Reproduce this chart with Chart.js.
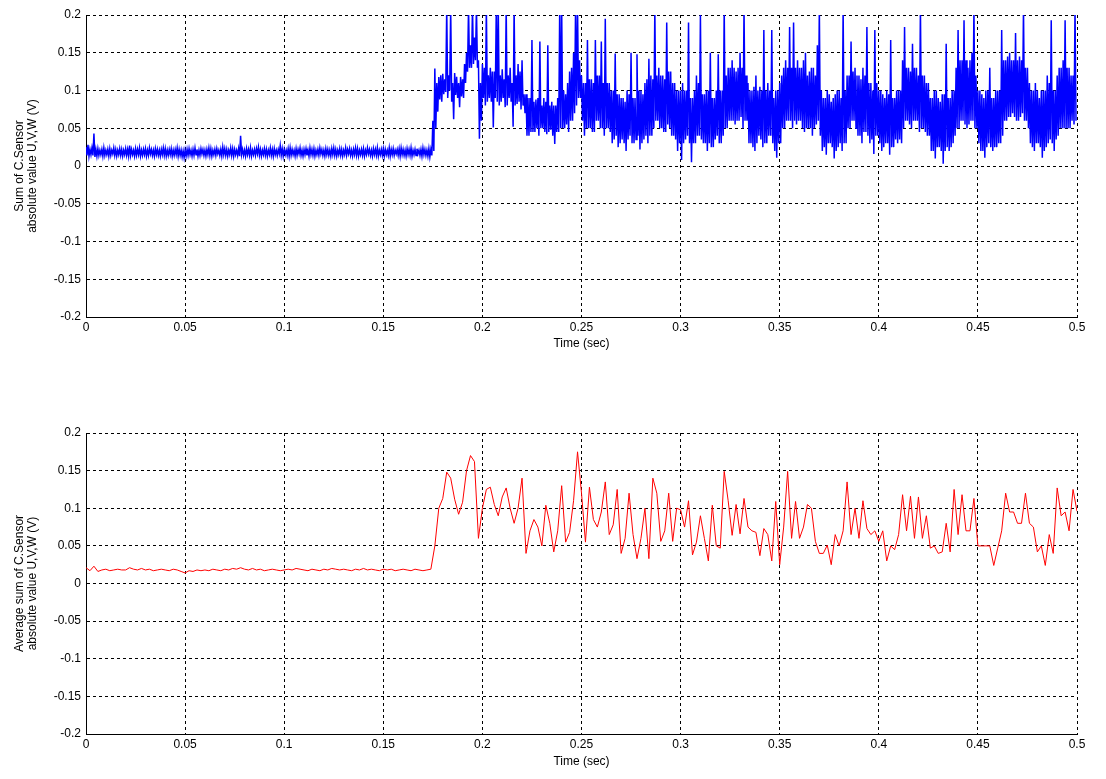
<!DOCTYPE html>
<html>
<head>
<meta charset="utf-8">
<script src="https://cdn.jsdelivr.net/npm/chart.js@4/dist/chart.umd.min.js"></script>
<style>
  body { margin: 0; background: #fff; }
  .plot { position: absolute; left: 0; width: 1106px; height: 361px; }
</style>
</head>
<body>
<div class="plot" style="top:0"><canvas id="sum-chart"></canvas></div>
<div class="plot" style="top:418px"><canvas id="avg-chart"></canvas></div>
<script>
// Tick labels
const xTicks = [0, 0.05, 0.1, 0.15, 0.2, 0.25, 0.3, 0.35, 0.4, 0.45, 0.5];
const yTicks = [-0.2, -0.15, -0.1, -0.05, 0, 0.05, 0.1, 0.15, 0.2];

// Sum of sensor values: peak and trough inside each 1 ms bin
const binWidth = 0.001;
const sumPeak = [
  // 0 .. 0.174 s : idle level
  .025,.028,.022,.024,.043,.022,.023,.021,.022,.024,.021,.022,.023,.021,.024,.022,.021,.023,.022,.021,.023,.022,.027,.022,.021,
  .023,.022,.024,.021,.022,.023,.021,.024,.022,.021,.023,.022,.021,.022,.024,.023,.021,.022,.023,.021,.022,.024,.022,.021,.020,
  .021,.022,.023,.021,.022,.024,.022,.021,.023,.022,.021,.022,.024,.023,.021,.022,.023,.021,.022,.025,.023,.022,.021,.024,.023,
  .022,.021,.023,.040,.022,.021,.023,.022,.024,.021,.022,.023,.025,.022,.021,.023,.022,.021,.024,.022,.023,.021,.022,.027,.023,
  .022,.021,.023,.024,.022,.021,.023,.022,.024,.021,.022,.023,.021,.024,.022,.023,.021,.022,.024,.022,.021,.023,.022,.021,.023,
  .024,.022,.021,.023,.022,.021,.024,.022,.023,.021,.022,.024,.023,.021,.022,.023,.021,.024,.022,.021,.023,.022,.024,.021,.022,
  .023,.022,.021,.024,.022,.023,.021,.022,.023,.024,.022,.021,.023,.022,.024,.021,.022,.023,.021,.022,.024,.022,.021,.023,.022,
  // 0.175 s onwards : motor running
  .06,.129,.11,.118,.12,.122,.115,.21,.12,.21,
  .11,.123,.118,.11,.118,.115,.135,.15,.21,.16,
  .21,.17,.21,.14,.11,.135,.13,.21,.12,.13,
  .125,.125,.21,.21,.12,.128,.115,.21,.12,.13,
  .11,.21,.12,.135,.125,.14,.095,.095,.09,.09,
  .167,.085,.088,.09,.165,.08,.09,.085,.16,.08,
  .085,.08,.08,.09,.21,.21,.1,.095,.11,.125,
  .13,.15,.21,.21,.14,.12,.11,.11,.167,.115,
  .115,.11,.167,.12,.12,.165,.11,.195,.11,.11,
  .1,.1,.149,.095,.095,.09,.09,.085,.1,.095,
  .15,.09,.09,.148,.1,.1,.095,.11,.115,.142,
  .12,.115,.21,.12,.13,.12,.12,.115,.19,.125,
  .125,.11,.11,.1,.1,.1,.11,.1,.1,.19,
  .09,.09,.1,.12,.11,.2,.095,.095,.1,.1,
  .15,.09,.09,.1,.148,.1,.1,.21,.12,.13,
  .13,.14,.13,.125,.13,.15,.13,.21,.12,.11,
  .1,.1,.105,.12,.1,.105,.1,.18,.1,.11,
  .1,.18,.09,.1,.1,.11,.12,.13,.14,.13,
  .184,.13,.19,.13,.14,.13,.13,.14,.15,.12,
  .125,.13,.13,.12,.16,.21,.1,.09,.09,.1,
  .095,.085,.09,.095,.1,.1,.09,.21,.1,.12,
  .12,.165,.125,.13,.12,.12,.115,.13,.12,.184,
  .11,.11,.1,.18,.11,.1,.1,.095,.09,.1,
  .095,.167,.09,.09,.1,.1,.1,.14,.184,.13,
  .13,.125,.162,.13,.13,.12,.21,.12,.12,.11,
  .11,.09,.09,.1,.1,.09,.085,.095,.095,.162,
  .09,.09,.1,.1,.13,.18,.14,.14,.193,.14,
  .13,.14,.15,.21,.12,.1,.1,.095,.09,.1,
  .1,.13,.09,.09,.1,.1,.1,.18,.14,.14,
  .145,.15,.14,.14,.176,.14,.145,.14,.21,.13,
  .13,.11,.1,.1,.11,.1,.09,.1,.1,.1,
  .12,.11,.193,.1,.1,.12,.13,.13,.14,.193,
  .13,.13,.12,.12,.21
];
const sumTrough = [
  // 0 .. 0.174 s
  .014,.013,.015,.014,.012,.013,.014,.015,.013,.014,.015,.013,.014,.016,.014,.013,.015,.014,.013,.015,.014,.013,.014,.015,.013,
  .014,.015,.013,.014,.015,.013,.014,.016,.014,.013,.015,.014,.013,.015,.014,.013,.014,.015,.013,.014,.015,.013,.014,.012,.011,
  .013,.014,.015,.013,.014,.015,.013,.014,.016,.014,.013,.015,.014,.013,.015,.014,.016,.014,.013,.015,.014,.013,.015,.014,.013,
  .015,.014,.013,.015,.014,.013,.015,.014,.013,.015,.014,.016,.014,.013,.015,.014,.013,.015,.014,.013,.015,.014,.016,.014,.013,
  .015,.014,.013,.014,.015,.013,.014,.016,.014,.013,.015,.014,.013,.015,.014,.013,.015,.014,.016,.014,.013,.015,.014,.013,.015,
  .014,.013,.015,.014,.013,.015,.014,.016,.014,.013,.015,.014,.013,.015,.014,.013,.015,.016,.014,.013,.015,.014,.013,.015,.014,
  .013,.015,.014,.013,.015,.014,.016,.014,.013,.015,.014,.013,.015,.014,.013,.015,.014,.016,.014,.013,.015,.014,.013,.012,.014,
  // 0.175 s onwards
  .02,.05,.072,.088,.085,.095,.098,.09,.1,.085,
  .062,.094,.09,.078,.092,.09,.11,.125,.13,.13,
  .135,.14,.13,.036,.06,.09,.08,.085,.09,.085,
  .051,.09,.085,.08,.085,.09,.078,.08,.09,.085,
  .052,.08,.082,.085,.075,.08,.07,.04,.04,.045,
  .045,.045,.05,.04,.05,.05,.045,.042,.045,.048,
  .04,.029,.045,.045,.05,.05,.05,.055,.045,.06,
  .06,.07,.08,.09,.09,.06,.04,.05,.05,.05,
  .045,.045,.06,.06,.05,.05,.04,.05,.05,.045,
  .03,.035,.04,.025,.03,.035,.03,.02,.035,.04,
  .03,.03,.035,.04,.022,.03,.035,.04,.03,.04,
  .04,.05,.06,.06,.05,.05,.045,.045,.055,.05,
  .04,.04,.035,.02,.03,.008,.03,.035,.04,.03,
  .005,.03,.03,.04,.04,.035,.03,.03,.02,.03,
  .025,.025,.035,.04,.03,.03,.04,.05,.05,.06,
  .06,.06,.055,.06,.06,.065,.05,.06,.06,.03,
  .03,.025,.02,.03,.04,.035,.025,.03,.03,.04,
  .04,.03,.02,.011,.03,.03,.05,.05,.06,.06,
  .06,.05,.06,.055,.06,.06,.05,.045,.05,.05,
  .05,.04,.05,.055,.06,.04,.02,.025,.015,.03,
  .03,.025,.01,.02,.025,.03,.02,.03,.03,.05,
  .05,.06,.06,.05,.04,.04,.03,.045,.045,.04,
  .03,.035,.016,.04,.04,.03,.02,.025,.03,.03,
  .015,.025,.025,.035,.03,.035,.03,.05,.06,.06,
  .055,.05,.06,.06,.06,.045,.05,.05,.045,.04,
  .04,.02,.02,.01,.025,.025,.02,.003,.02,.025,
  .02,.025,.03,.04,.05,.05,.06,.06,.055,.05,
  .055,.06,.06,.05,.05,.03,.02,.02,.011,.025,
  .03,.025,.02,.025,.025,.03,.03,.04,.06,.06,
  .065,.065,.07,.065,.06,.06,.065,.07,.06,.06,
  .05,.03,.025,.02,.03,.03,.025,.011,.02,.025,
  .03,.035,.03,.02,.035,.04,.05,.05,.05,.05,
  .05,.05,.06,.055,.06
];

// Averaged sum, sampled every 2 ms
const avgStep = 0.002;
const avgValues = [
  // 0 .. 0.174 s
  0.021,0.017,0.023,0.016,0.018,0.019,0.017,0.018,0.019,0.018,0.018,0.021,0.019,0.018,0.020,0.018,0.019,0.017,0.018,0.019,0.018,0.017,0.019,0.018,0.016,0.014,0.017,0.016,0.018,0.017,
  0.018,0.017,0.019,0.018,0.017,0.019,0.018,0.020,0.019,0.021,0.019,0.018,0.020,0.018,0.019,0.017,0.018,0.019,0.018,0.017,0.018,0.019,0.018,0.020,0.019,0.018,0.017,0.019,0.018,0.017,
  0.019,0.018,0.020,0.019,0.018,0.019,0.018,0.017,0.019,0.018,0.020,0.018,0.019,0.018,0.017,0.019,0.018,0.019,0.017,0.018,0.019,0.018,0.017,0.019,0.018,0.017,0.018,0.019,
  // 0.176 s onwards
  0.05,0.1,0.113,0.148,0.14,0.112,0.092,0.108,0.15,0.17,
  0.162,0.06,0.1,0.125,0.128,0.105,0.09,0.115,0.127,0.1,
  0.08,0.1,0.14,0.04,0.07,0.085,0.075,0.05,0.104,0.08,
  0.042,0.07,0.13,0.055,0.068,0.11,0.175,0.12,0.055,0.128,
  0.085,0.075,0.095,0.135,0.065,0.078,0.125,0.04,0.06,0.12,
  0.065,0.033,0.06,0.1,0.033,0.14,0.12,0.056,0.07,0.12,
  0.056,0.1,0.098,0.075,0.11,0.038,0.055,0.09,0.06,0.03,
  0.104,0.05,0.047,0.149,0.11,0.064,0.105,0.066,0.113,0.075,
  0.07,0.068,0.037,0.073,0.065,0.03,0.109,0.025,0.075,0.149,
  0.06,0.109,0.06,0.075,0.105,0.1,0.056,0.04,0.04,0.051,
  0.025,0.065,0.05,0.07,0.135,0.065,0.1,0.06,0.11,0.073,
  0.065,0.07,0.056,0.07,0.03,0.05,0.045,0.065,0.118,0.07,
  0.116,0.06,0.115,0.06,0.09,0.047,0.05,0.04,0.042,0.08,
  0.042,0.125,0.065,0.118,0.07,0.07,0.113,0.05,0.05,0.05,
  0.05,0.024,0.047,0.07,0.12,0.095,0.095,0.08,0.08,0.12,
  0.08,0.075,0.042,0.05,0.024,0.065,0.04,0.127,0.09,0.095,
  0.07,0.125,0.096
];

// Peak at the start of each bin, trough half a bin later
const sumTimes = [];
const sumValues = [];
sumPeak.forEach((p, i) => {
  sumTimes.push(+(i * binWidth).toFixed(4), +((i + 0.5) * binWidth).toFixed(4));
  sumValues.push(p, sumTrough[i]);
});
const avgTimes = avgValues.map((v, i) => +(i * avgStep).toFixed(4));

const labelFont = { family: '"Liberation Sans", Arial, sans-serif', size: 12, lineHeight: 1.0833 };

// Build one MATLAB-style subplot
function makeChart(id, times, values, color, lineWidth, yTitle, xAxisHeight) {
  const ctx = document.getElementById(id).getContext('2d');
  return new Chart(ctx, {
    type: 'line',
    data: {
      labels: times,
      datasets: [{
        data: values,
        borderColor: color,
        borderWidth: lineWidth,
        pointRadius: 0,
        tension: 0,
        fill: false
      }]
    },
    options: {
      responsive: true,
      maintainAspectRatio: false,
      animation: false,
      layout: { padding: { top: 15, right: 29, bottom: 0, left: 0 } },
      plugins: { legend: { display: false }, tooltip: { enabled: false } },
      scales: {
        x: {
          type: 'linear',
          min: 0,
          max: 0.5,
          z: 1,
          afterBuildTicks: s => { s.ticks = xTicks.map(v => ({ value: v })); },
          afterFit: s => { s.height = xAxisHeight; },
          ticks: { callback: v => String(v), color: '#000', padding: 4, font: labelFont, maxRotation: 0, autoSkip: false },
          grid: { color: '#000', lineWidth: 1, drawTicks: false },
          border: { display: true, color: '#000', width: 1, dash: [3, 3] },
          title: { display: true, text: 'Time (sec)', color: '#000', font: labelFont, padding: { top: 0, bottom: 10.5 } }
        },
        y: {
          min: -0.2,
          max: 0.2,
          z: 1,
          afterBuildTicks: s => { s.ticks = yTicks.map(v => ({ value: v })); },
          afterFit: s => { s.width = 86; },
          ticks: { callback: v => String(v), color: '#000', padding: 5, font: labelFont, autoSkip: false },
          grid: { color: '#000', lineWidth: 1, drawTicks: false },
          border: { display: true, color: '#000', width: 1, dash: [3, 3] },
          title: { display: true, text: yTitle, color: '#000', font: labelFont, padding: { top: 13.5, bottom: 0 } }
        }
      }
    }
  });
}

makeChart('sum-chart', sumTimes, sumValues, '#0000ff', 1.5,
  ['Sum of C.Sensor', 'absolute value U,V,W (V)'], 44);
makeChart('avg-chart', avgTimes, avgValues, '#ff0000', 1,
  ['Average sum of C.Sensor', 'absolute value U,V,W (V)'], 45);
</script>
</body>
</html>
